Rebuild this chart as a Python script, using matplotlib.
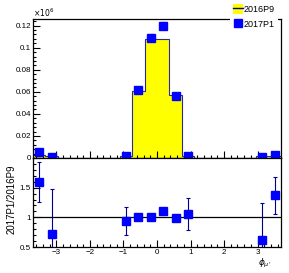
import numpy as np
import matplotlib
matplotlib.use("Agg")
import matplotlib.pyplot as plt
from matplotlib.patches import Patch
from matplotlib.lines import Line2D
from matplotlib.ticker import MultipleLocator, FuncFormatter

plt.rcParams['font.family'] = ['Liberation Sans', 'DejaVu Sans']
plt.rcParams['mathtext.fontset'] = 'dejavusans'

# binning: 20 bins over the phi range
bin_edges = np.linspace(-3.7, 3.7, 21)
centers = 0.5 * (bin_edges[:-1] + bin_edges[1:])

# 2016P9 (reference histogram, x1e6)
hist_2016 = [0.0031, 0.0014, 0, 0, 0, 0, 0, 0.0021, 0.0603, 0.108,
             0.108, 0.057, 0.0019, 0, 0, 0, 0, 0, 0.0016, 0.0022]
# 2017P1 data points
data_2017 = [0.005, 0.001, 0, 0, 0, 0, 0, 0.002, 0.0614, 0.1090,
             0.1200, 0.0565, 0.002, 0, 0, 0, 0, 0, 0.001, 0.003]
err_2017 = [0.0008, 0.0006, 0, 0, 0, 0, 0, 0.0006, 0.0022, 0.0030,
            0.0030, 0.0018, 0.0006, 0, 0, 0, 0, 0, 0.0006, 0.0008]
# ratio 2017P1/2016P9
ratio = [1.59, 0.72, 0, 0, 0, 0, 0, 0.94, 1.005, 1.0,
         1.11, 0.99, 1.06, 0, 0, 0, 0, 0, 0.61, 1.37]
ratio_err = [0.335, 0.75, 0, 0, 0, 0, 0, 0.24, 0.02, 0.015,
             0.015, 0.02, 0.27, 0, 0, 0, 0, 0, 0.63, 0.31]

hist_2016 = np.array(hist_2016)
data_2017 = np.array(data_2017)
err_2017 = np.array(err_2017)
ratio = np.array(ratio)
ratio_err = np.array(ratio_err)
filled = data_2017 > 0

W, H = 289, 273
fig = plt.figure(figsize=(W / 100, H / 100), dpi=100)
ax = fig.add_axes([33 / W, (H - 158) / H, 248 / W, 139 / H])
rax = fig.add_axes([33 / W, (H - 247) / H, 248 / W, 89 / H])

fs = 5.8
navy = '#00008b'
for a in (ax, rax):
    a.set_xlim(-3.7, 3.7)
    a.xaxis.set_major_locator(MultipleLocator(1))
    a.xaxis.set_minor_locator(MultipleLocator(0.2))
    a.tick_params(which='both', direction='in', top=False, right=False,
                  labelsize=fs, pad=1.5, width=0.8)
    a.tick_params(which='major', length=5)
    a.tick_params(which='minor', length=2.5)
    for s in a.spines.values():
        s.set_linewidth(0.9)

fmt = FuncFormatter(lambda v, p: ('%g' % round(v, 6)))

# main panel
ax.stairs(hist_2016, bin_edges, fill=True, color='#ffff00', zorder=1)
ax.stairs(hist_2016, bin_edges, color='#2a2aa0', lw=0.8, zorder=2)
ax.errorbar(centers[filled], data_2017[filled], yerr=err_2017[filled],
            fmt='s', color='#0000ff', ecolor=navy, elinewidth=0.8,
            capsize=1.5, capthick=0.8, markersize=6, zorder=3)
ax.set_ylim(0, 0.126)
ax.yaxis.set_major_locator(MultipleLocator(0.02))
ax.yaxis.set_minor_locator(MultipleLocator(0.004))
ax.yaxis.set_major_formatter(fmt)
ax.tick_params(axis='x', labelbottom=False)

# ratio panel
rax.axhline(1.0, color='black', lw=0.9, zorder=1)
rax.errorbar(centers[filled], ratio[filled], yerr=ratio_err[filled],
             fmt='s', color='#0000ff', ecolor=navy, elinewidth=0.8,
             capsize=1.5, capthick=0.8, markersize=6, zorder=3, clip_on=True)
rax.set_ylim(0.5, 2.0)
rax.yaxis.set_major_locator(MultipleLocator(0.5))
rax.yaxis.set_minor_locator(MultipleLocator(0.1))
rax.yaxis.set_major_formatter(FuncFormatter(lambda v, p: '' if v > 1.9 else '%g' % v))
rax.xaxis.set_major_formatter(FuncFormatter(lambda v, p: ('\u2212%g' % -v) if v < 0 else '%g' % v))

fig.text(12 / W, 1 - 199 / H, '2017P1/2016P9', rotation=90, fontsize=7,
         ha='center', va='center')
fig.text(265 / W, 1 - 263 / H, r"$\phi_{\mu'}$", fontsize=6.5, ha='center', va='center')
fig.text(33 / W, 1 - 13 / H, r'$\times10^{6}$', fontsize=5.5, ha='left', va='center')

h1 = (Patch(facecolor='#ffff00', edgecolor='none'), Line2D([], [], color=navy, lw=1))
h2 = Line2D([], [], marker='s', color='#0000ff', linestyle='none', markersize=6)
leg = fig.legend([h1, h2], ['2016P9', '2017P1'], loc='upper left',
                 bbox_to_anchor=(230 / W, 1 - 1 / H), fontsize=6.5, frameon=True,
                 handlelength=1.1, handleheight=1.4, handletextpad=0.15,
                 labelspacing=0.5, borderpad=0.3, borderaxespad=0)
leg.get_frame().set_edgecolor('none')
leg.get_frame().set_facecolor('white')
leg.get_frame().set_alpha(1)

fig.savefig('out.png', dpi=100)
